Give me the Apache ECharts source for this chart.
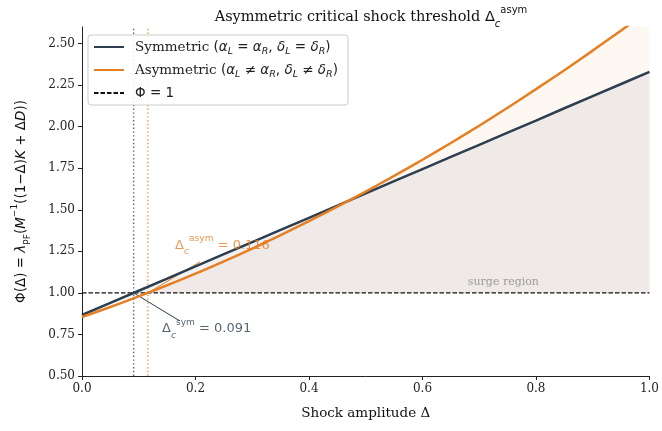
<!DOCTYPE html>
<html>
<head>
<meta charset="utf-8">
<script src="https://cdn.jsdelivr.net/npm/echarts@6/dist/echarts.min.js"></script>
<style>
  html, body { margin: 0; padding: 0; background: #fff; }
  #chart { width: 662px; height: 431px; }
</style>
</head>
<body>
<div id="chart"></div>
<script>
  // shock amplitude samples
  const deltas = [0, 0.05, 0.1, 0.15, 0.2, 0.25, 0.3, 0.35, 0.4, 0.45, 0.5,
    0.55, 0.6, 0.65, 0.7, 0.75, 0.8, 0.85, 0.9, 0.95, 1.0]
  // Phi for the symmetric case
  const phiSym = [0.867, 0.940, 1.013, 1.086, 1.160, 1.233, 1.306, 1.379, 1.452, 1.525, 1.599,
    1.672, 1.745, 1.818, 1.891, 1.964, 2.037, 2.111, 2.184, 2.257, 2.330]
  // Phi for the asymmetric case
  const phiAsym = [0.855, 0.915, 0.979, 1.046, 1.116, 1.190, 1.267, 1.348, 1.432, 1.519, 1.610,
    1.704, 1.801, 1.902, 2.006, 2.114, 2.226, 2.340, 2.458, 2.579, 2.703]
  // critical thresholds
  const deltaCritSym = 0.091
  const deltaCritAsym = 0.116
  const xTicks = [0, 0.2, 0.4, 0.6, 0.8, 1.0]
  const yTicks = [0.5, 0.75, 1.0, 1.25, 1.5, 1.75, 2.0, 2.25, 2.5]

  const navy = '#2c3e50'
  const orange = '#e67e22'
  const serif = '"DejaVu Serif", serif'
  const sans = '"DejaVu Sans", sans-serif'

  const symPts = deltas.map((d, i) => [d, phiSym[i]])
  const asymPts = deltas.map((d, i) => [d, phiAsym[i]])
  // region above Phi = 1, starting at the threshold
  const symFill = [[deltaCritSym, 1]].concat(symPts.filter(p => p[0] > deltaCritSym))
  const asymFill = [[deltaCritAsym, 1]].concat(asymPts.filter(p => p[0] > deltaCritAsym))

  // sub/superscript styles for rich text
  function scriptRich (color, size) {
    return {
      d: { fontFamily: sans, fontSize: size, color: color, lineHeight: 22, verticalAlign: 'middle' },
      b: { fontFamily: sans, fontSize: size * 0.7, fontStyle: 'italic', color: color, lineHeight: 10, verticalAlign: 'bottom' },
      p: { fontFamily: sans, fontSize: size * 0.7, color: color, lineHeight: 10, verticalAlign: 'top' }
    }
  }

  const legendRich = {
    t: { fontFamily: serif, fontSize: 13.5, color: '#222', lineHeight: 20 },
    m: { fontFamily: sans, fontSize: 13.5, color: '#222', lineHeight: 20 },
    i: { fontFamily: sans, fontSize: 13.5, fontStyle: 'italic', color: '#222', lineHeight: 20 },
    s: { fontFamily: sans, fontSize: 9.5, fontStyle: 'italic', color: '#222', lineHeight: 12, verticalAlign: 'bottom' }
  }

  const legendText = {
    'sym': '{t|Symmetric }{m|(}{i|α}{s|L}{m| = }{i|α}{s|R}{m|, }{i|δ}{s|L}{m| = }{i|δ}{s|R}{m|)}',
    'asym': '{t|Asymmetric }{m|(}{i|α}{s|L}{m| ≠ }{i|α}{s|R}{m|, }{i|δ}{s|L}{m| ≠ }{i|δ}{s|R}{m|)}',
    'phi': '{m|Φ = 1}'
  }

  const chart = echarts.init(document.getElementById('chart'))
  const option = {
    animation: false,
    title: {
      text: '{t|Asymmetric critical shock threshold }{d|Δ}{b|c}{p|asym}',
      left: 366,
      textAlign: 'center',
      top: 0,
      textStyle: {
        fontWeight: 'normal',
        rich: {
          t: { fontFamily: serif, fontSize: 14.5, color: '#111', fontWeight: 'normal', lineHeight: 24 },
          d: { fontFamily: sans, fontSize: 14.5, color: '#111', fontWeight: 'normal', lineHeight: 24 },
          b: { fontFamily: sans, fontSize: 10, fontStyle: 'italic', color: '#111', fontWeight: 'normal', lineHeight: 10, verticalAlign: 'bottom' },
          p: { fontFamily: sans, fontSize: 10, color: '#111', fontWeight: 'normal', lineHeight: 10, verticalAlign: 'top' }
        }
      }
    },
    grid: { left: 82, right: 12, top: 27, bottom: 55 },
    legend: {
      left: 88,
      top: 35,
      orient: 'vertical',
      data: ['sym', 'asym', 'phi'],
      itemWidth: 30,
      itemHeight: 10,
      itemGap: 6,
      padding: [5, 10, 5, 5],
      backgroundColor: 'rgba(255,255,255,0.9)',
      borderColor: '#ccc',
      borderWidth: 1,
      borderRadius: 3,
      itemStyle: { color: 'transparent', borderWidth: 0, opacity: 0 },
      formatter: name => legendText[name],
      textStyle: { rich: legendRich, padding: [0, 0, 0, 6] }
    },
    xAxis: {
      type: 'value',
      min: 0,
      max: 1,
      interval: 0.2,
      name: 'Shock amplitude Δ',
      nameLocation: 'middle',
      nameGap: 30,
      nameTextStyle: { fontFamily: serif, fontSize: 13.5, color: '#111' },
      axisLine: { lineStyle: { color: '#222', width: 1 } },
      axisTick: { length: 4, lineStyle: { color: '#222' } },
      axisLabel: {
        fontFamily: serif, fontSize: 12, color: '#222', margin: 7,
        formatter: v => xTicks.some(t => Math.abs(t - v) < 1e-9) ? v.toFixed(1) : ''
      },
      splitLine: { show: false }
    },
    yAxis: {
      type: 'value',
      min: 0.5,
      max: 2.6,
      interval: 0.25,
      name: '{m|Φ(Δ) = }{i|λ}{s|PF}{m|(}{i|M}{u|−1}{m|((1−Δ)}{i|K}{m| + Δ}{i|D}{m|))}',
      nameLocation: 'middle',
      nameGap: 50,
      nameTextStyle: {
        rich: {
          m: { fontFamily: sans, fontSize: 13.5, color: '#111', lineHeight: 22 },
          i: { fontFamily: sans, fontSize: 13.5, fontStyle: 'italic', color: '#111', lineHeight: 22 },
          s: { fontFamily: sans, fontSize: 9, color: '#111', lineHeight: 12, verticalAlign: 'bottom' },
          u: { fontFamily: sans, fontSize: 9, color: '#111', lineHeight: 12, verticalAlign: 'top' }
        }
      },
      axisLine: { show: true, lineStyle: { color: '#222', width: 1 } },
      axisTick: { show: true, length: 4, lineStyle: { color: '#222' } },
      axisLabel: {
        fontFamily: serif, fontSize: 12, color: '#222', margin: 7,
        showMaxLabel: false,
        formatter: v => yTicks.some(t => Math.abs(t - v) < 1e-9) ? v.toFixed(2) : ''
      },
      splitLine: { show: false }
    },
    series: [
      {
        name: 'symFill', type: 'line', data: symFill, symbol: 'none', silent: true,
        lineStyle: { width: 0 }, areaStyle: { origin: 1, color: 'rgba(44,62,80,0.10)' }, z: 1
      },
      {
        name: 'asymFill', type: 'line', data: asymFill, symbol: 'none', silent: true,
        lineStyle: { width: 0 }, areaStyle: { origin: 1, color: 'rgba(230,126,34,0.08)' }, z: 1
      },
      {
        name: 'critSym', type: 'line', data: [[deltaCritSym, 0.5], [deltaCritSym, 2.6]], symbol: 'none', silent: true,
        lineStyle: { color: navy, width: 1.4, type: [1.4, 2.4], opacity: 0.8 }, z: 2
      },
      {
        name: 'critAsym', type: 'line', data: [[deltaCritAsym, 0.5], [deltaCritAsym, 2.6]], symbol: 'none', silent: true,
        lineStyle: { color: orange, width: 1.4, type: [1.4, 2.4], opacity: 0.8 }, z: 2
      },
      {
        name: 'phi', type: 'line', data: [[0, 1], [1, 1]], symbol: 'none', silent: true,
        itemStyle: { color: '#111' },
        lineStyle: { color: '#111', width: 1.2, type: [4.5, 2] }, z: 3
      },
      {
        name: 'arrowAsym', type: 'line', data: [[deltaCritAsym, 1], [0.208, 1.187]], symbol: 'none', silent: true,
        lineStyle: { color: orange, width: 1 }, z: 3
      },
      {
        name: 'arrowSym', type: 'line', data: [[deltaCritSym, 1], [0.1725, 0.831]], symbol: 'none', silent: true,
        lineStyle: { color: navy, width: 1 }, z: 3
      },
      {
        name: 'sym', type: 'line', data: symPts, symbol: 'none', smooth: false,
        itemStyle: { color: navy },
        lineStyle: { color: navy, width: 2.5 }, z: 4
      },
      {
        name: 'asym', type: 'line', data: asymPts, symbol: 'none', smooth: 0.3,
        itemStyle: { color: orange },
        lineStyle: { color: orange, width: 2.5 }, z: 5
      },
      {
        name: 'labels', type: 'scatter', symbolSize: 0, silent: true, z: 6,
        data: [
          { value: [0.164, 1.285], label: { formatter: '{d|Δ}{b|c}{p|asym}{d| = 0.116}', rich: scriptRich(orange, 13) } },
          { value: [0.141, 0.783], label: { formatter: '{d|Δ}{b|c}{p|sym}{d| = 0.091}', rich: scriptRich(navy, 13) } },
          { value: [0.68, 1.065], label: { formatter: 'surge region', fontFamily: serif, fontSize: 11, color: '#888' } }
        ],
        label: { show: true, position: 'right', distance: 0 }
      }
    ]
  }
  chart.setOption(option)
</script>
</body>
</html>
